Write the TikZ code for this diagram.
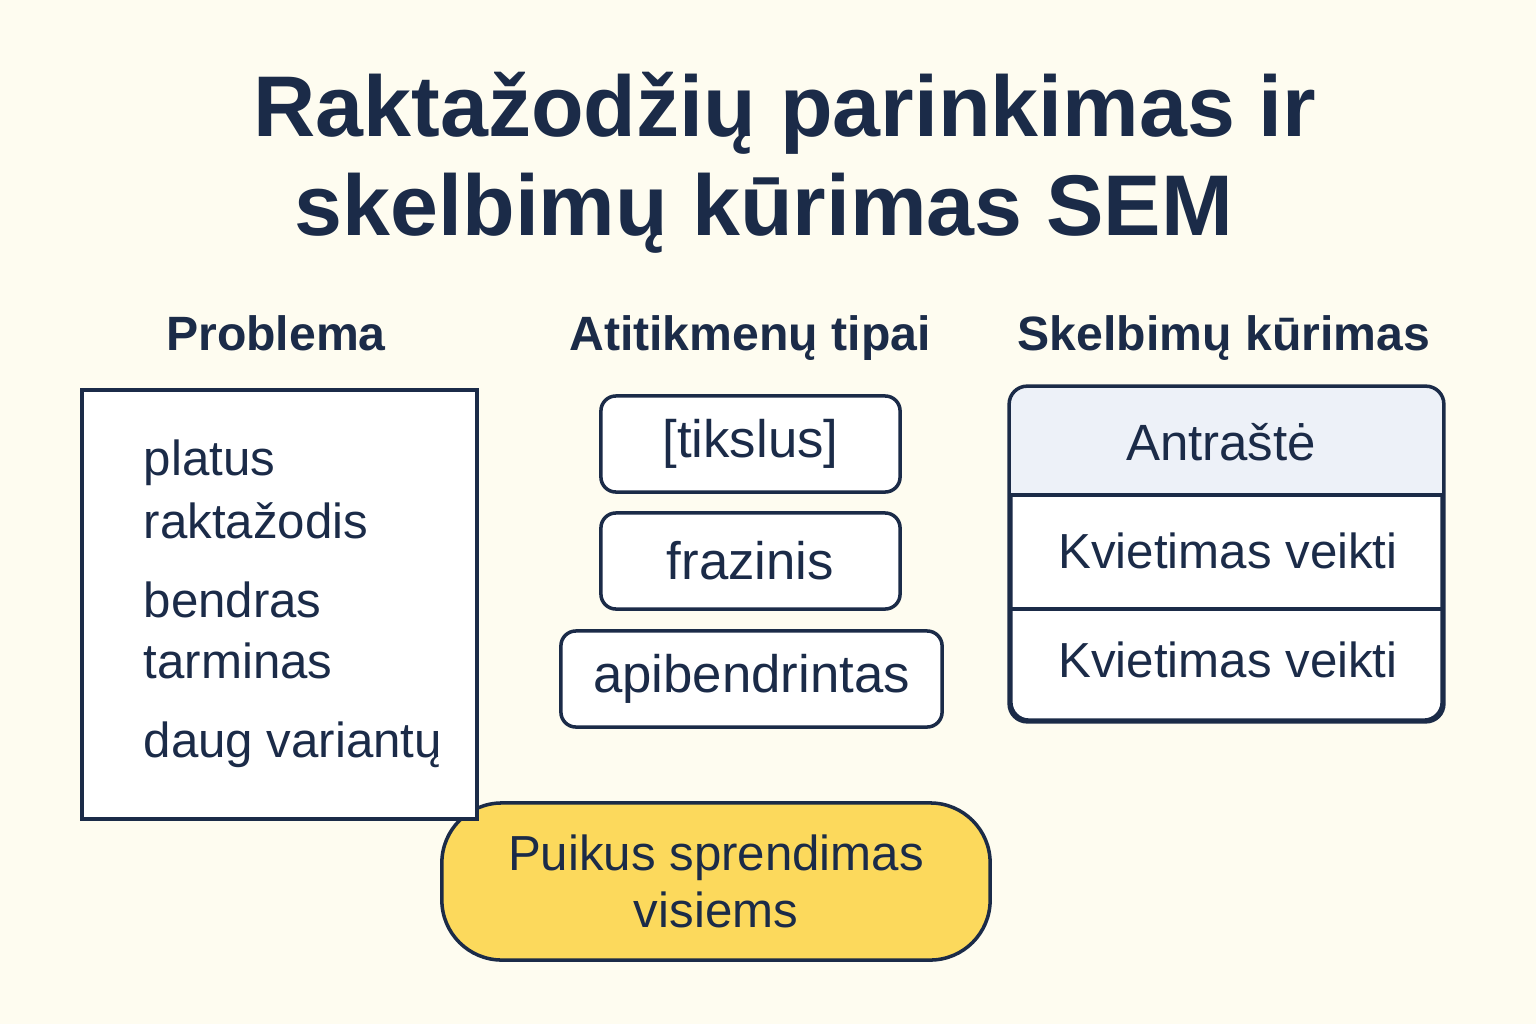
\documentclass[tikz,border=0pt]{standalone}
\usepackage{fontspec}
\setmainfont{Liberation Sans}
\definecolor{ink}{HTML}{1B2B48}
\definecolor{cream}{HTML}{FEFCF0}
\definecolor{gold}{HTML}{FCD95C}
\definecolor{hdr}{HTML}{EDF1F8}
\begin{document}
\begin{tikzpicture}[x=0.01cm,y=-0.01cm,every node/.style={text=ink},
	box/.style={draw=ink,line width=1pt,fill=white},
	matchbox/.style={box,rounded corners=0.15cm,minimum width=2.99cm,minimum height=0.96cm,font=\fontsize{15}{18}\selectfont},
	head/.style={anchor=base,font=\bfseries\fontsize{13.7}{16}\selectfont},
	item/.style={anchor=base west,inner sep=0pt,font=\fontsize{14}{17}\selectfont},
	cell/.style={anchor=base,font=\fontsize{14}{17}\selectfont}]
\fill[cream] (0,0) rectangle (1536,1024);
\useasboundingbox (0,0) rectangle (1536,1024);
% title
\node (title1) at (785,136) [anchor=base,font=\bfseries\fontsize{24.5}{29}\selectfont] {Raktažodžių parinkimas ir};
\node (title2) at (764,235) [anchor=base,font=\bfseries\fontsize{24.5}{29}\selectfont] {skelbimų kūrimas SEM};
% column heads
\node (headprob) at (276,350) [head] {Problema};
\node (headmatch) at (750,350) [head] {Atitikmenų tipai};
\node (headads) at (1224,350) [head] {Skelbimų kūrimas};
% solution
\node (sol) at (716,881.5) [box,fill=gold,rounded corners=0.6cm,minimum width=5.48cm,minimum height=1.57cm,
	align=center,font=\fontsize{14}{16.2}\selectfont] {Puikus sprendimas\\visiems};
% problem
\node (prob) at (279.5,604.5) [box,minimum width=3.95cm,minimum height=4.29cm] {};
\node (broad1) at (143,475) [item] {platus};
\node (broad2) at (143,538) [item] {raktažodis};
\node (general1) at (143,617) [item] {bendras};
\node (general2) at (143,678) [item] {tarminas};
\node (variants) at (143,757) [item] {daug variantų};
% match types
\node (exact) at (750.5,444) [matchbox] {[tikslus]};
\node (phrase) at (750.5,561) [matchbox] {frazinis};
\node (broad) at (751.5,679) [matchbox,minimum width=3.81cm] {apibendrintas};
% ads
\node (tbl) at (1226.5,554) [box,rounded corners=0.18cm,minimum width=4.31cm,minimum height=3.32cm] {};
\begin{scope}
	\clip[rounded corners=0.18cm] (tbl.south west) rectangle (tbl.north east);
	\fill[hdr] (tbl.north west) rectangle (tbl.east |- 0,495);
\end{scope}
\draw[draw=ink,line width=1pt,rounded corners=0.18cm] (tbl.south west) rectangle (tbl.north east);
\draw[draw=ink,line width=1pt] (tbl.west |- 0,495) -- (tbl.east |- 0,495);
\draw[draw=ink,line width=1pt] (tbl.west |- 0,609) -- (tbl.east |- 0,609);
\node (headline) at (1221,460) [cell,font=\fontsize{14.5}{17}\selectfont] {Antraštė};
\node (cta1) at (1228,568) [cell] {Kvietimas veikti};
\node (cta2) at (1228,677) [cell] {Kvietimas veikti};
\end{tikzpicture}
\end{document}
